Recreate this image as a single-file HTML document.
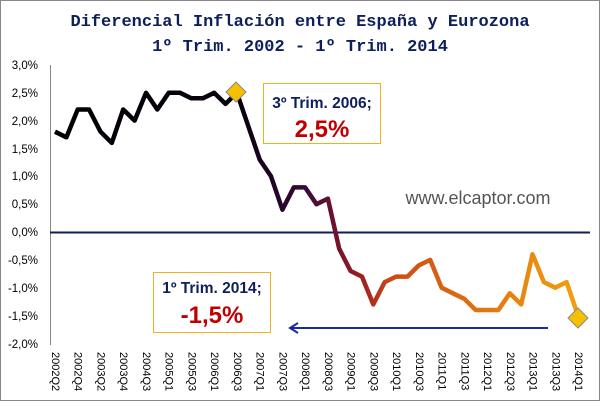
<!DOCTYPE html>
<html><head><meta charset="utf-8"><style>body{margin:0;background:#fff}</style></head><body>
<svg width="600" height="401" xmlns="http://www.w3.org/2000/svg" font-family="Liberation Sans, sans-serif">
<defs>
<linearGradient id="g" gradientUnits="userSpaceOnUse" x1="55" y1="0" x2="578" y2="0">
<stop offset="0" stop-color="#000"/><stop offset="0.36" stop-color="#0a0010"/><stop offset="0.48" stop-color="#3a0a3a"/><stop offset="0.58" stop-color="#9a1a20"/><stop offset="0.64" stop-color="#c84a18"/><stop offset="0.8" stop-color="#e07010"/><stop offset="1" stop-color="#f0a010"/>
</linearGradient>
</defs>
<rect x="0.5" y="0.5" width="599" height="400" fill="#fff" stroke="#888"/>
<text x="300" y="26" text-anchor="middle" font-family="Liberation Mono, monospace" font-weight="bold" font-size="17" fill="#0d1f5c">Diferencial Inflación entre España y Eurozona</text>
<text x="300" y="51" text-anchor="middle" font-family="Liberation Mono, monospace" font-weight="bold" font-size="17" fill="#0d1f5c">1º Trim. 2002 - 1º Trim. 2014</text>
<line x1="50.5" y1="65" x2="50.5" y2="345" stroke="#888"/>
<g font-size="11.5" fill="#000" text-anchor="end">
<text x="38" y="69">3,0%</text><text x="38" y="97">2,5%</text><text x="38" y="125">2,0%</text><text x="38" y="153">1,5%</text><text x="38" y="180">1,0%</text><text x="38" y="208">0,5%</text><text x="38" y="236">0,0%</text><text x="38" y="264">-0,5%</text><text x="38" y="292">-1,0%</text><text x="38" y="320">-1,5%</text><text x="38" y="348">-2,0%</text>
</g>
<line x1="50" y1="232.5" x2="590" y2="232.5" stroke="#0d1f5c" stroke-width="2"/>
<g font-size="11" fill="#000" id="xl"></g>
<polyline id="ln" fill="none" stroke="url(#g)" stroke-width="4.5" stroke-linejoin="round"/>
<polygon points="236,82 246,92 236,102 226,92" fill="#f5c000" stroke="#8a8a8a"/>
<polygon points="578,308 588,318 578,328 568,318" fill="#f5c000" stroke="#8a8a8a"/>
<rect x="263.5" y="83.5" width="117" height="60" fill="#fff" stroke="#f0b020"/>
<text x="322" y="108" text-anchor="middle" font-size="15.5" font-weight="bold" fill="#0d1f5c">3º Trim. 2006;</text>
<text x="322" y="137" text-anchor="middle" font-size="24" font-weight="bold" fill="#c00000">2,5%</text>
<rect x="153.5" y="272.5" width="117" height="60" fill="#fff" stroke="#f0b020"/>
<text x="212" y="293" text-anchor="middle" font-size="15.5" font-weight="bold" fill="#0d1f5c">1º Trim. 2014;</text>
<text x="212" y="323" text-anchor="middle" font-size="24" font-weight="bold" fill="#c00000">-1,5%</text>
<line x1="292" y1="328" x2="548" y2="328" stroke="#1a2a9a" stroke-width="2"/>
<polyline points="298,323 290,328 298,333" fill="none" stroke="#1a2a9a" stroke-width="2"/>
<text x="478" y="204" text-anchor="middle" font-size="18" fill="#555">www.elcaptor.com</text>
</svg>
<script>
var v=[1.8,1.7,2.2,2.2,1.8,1.6,2.2,2.0,2.5,2.2,2.5,2.5,2.4,2.4,2.5,2.3,2.5,1.9,1.3,1.0,0.4,0.8,0.8,0.5,0.6,-0.3,-0.7,-0.8,-1.3,-0.9,-0.8,-0.8,-0.6,-0.5,-1.0,-1.1,-1.2,-1.4,-1.4,-1.4,-1.1,-1.3,-0.4,-0.9,-1.0,-0.9,-1.5];
var p=[];for(var i=0;i<v.length;i++){var x=55+i*(523/(v.length-1));p.push(x.toFixed(1)+","+(232-v[i]*55.7).toFixed(1));}
document.getElementById('ln').setAttribute('points',p.join(' '));
var L=["2002Q2","2002Q4","2003Q2","2003Q4","2004Q3","2005Q1","2005Q3","2006Q1","2006Q3","2007Q1","2007Q3","2008Q1","2008Q3","2009Q1","2009Q3","2010Q1","2010Q3","2011Q1","2011Q3","2012Q1","2012Q3","2013Q1","2013Q3","2014Q1"];
var g=document.getElementById('xl'),s="";
for(var j=0;j<L.length;j++){var x=56+j*(523/23);s+='<text transform="translate('+(x-4).toFixed(1)+',352) rotate(90)">'+L[j]+'</text>';}
g.innerHTML=s;
</script>
</body></html>
